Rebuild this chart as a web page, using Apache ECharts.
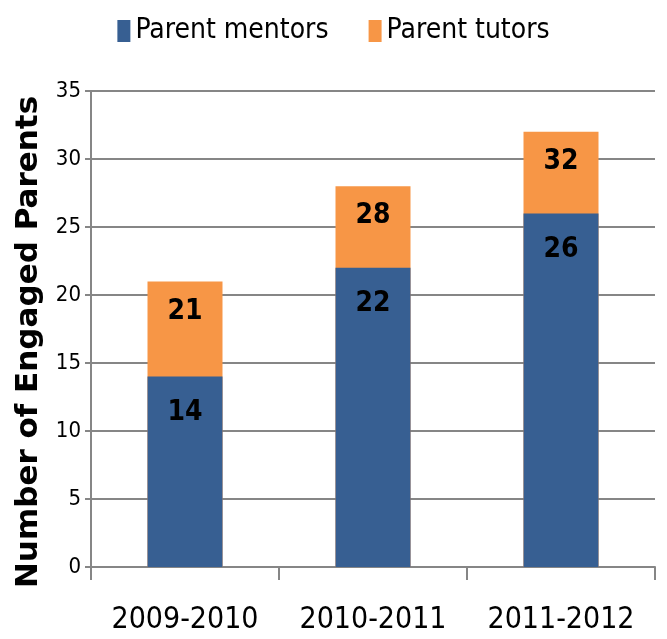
<!DOCTYPE html>
<html>
<head>
<meta charset="utf-8">
<script src="https://cdn.jsdelivr.net/npm/echarts@6/dist/echarts.min.js"></script>
<style>
  html, body { margin: 0; padding: 0; background: #fff; }
  #main { width: 667px; height: 639px; }
</style>
</head>
<body>
<div id="main"></div>
<script>
// values
const years = ['2009-2010', '2010-2011', '2011-2012']
const mentors = [14, 22, 26]
const tutors = [21, 28, 32]
const yTicks = [0, 35, 5] // min, max, step

const narrow = '"Liberation Sans Narrow", "DejaVu Sans Condensed", sans-serif'

var myChart = echarts.init(document.getElementById('main'))

myChart.setOption({
  animation: false,
  legend: {
    data: ['Parent mentors', 'Parent tutors'],
    top: 12,
    left: 'center',
    itemWidth: 13,
    itemHeight: 22,
    itemGap: 40,
    icon: 'rect',
    textStyle: { fontFamily: narrow, fontSize: 28, color: '#000' }
  },
  grid: { left: 91, right: 12, top: 91, bottom: 72, outerBoundsMode: 'none', containLabel: false },
  xAxis: {
    type: 'category',
    data: years,
    axisLine: { lineStyle: { color: '#868686', width: 2 } },
    axisTick: { show: true, length: 13, lineStyle: { color: '#868686', width: 2 } },
    axisLabel: { interval: 0, fontFamily: narrow, fontSize: 30, color: '#000', margin: 38 }
  },
  yAxis: {
    type: 'value',
    min: yTicks[0],
    max: yTicks[1],
    interval: yTicks[2],
    name: 'Number of Engaged Parents',
    nameLocation: 'middle',
    nameGap: 36,
    nameTextStyle: {
      fontFamily: '"DejaVu Sans", sans-serif', fontWeight: 'bold', fontSize: 31, color: '#000',
      padding: [0, 26, 0, 0]
    },
    axisLine: { show: true, lineStyle: { color: '#868686', width: 2 } },
    axisTick: { show: true, length: 6, lineStyle: { color: '#868686', width: 2 } },
    axisLabel: { fontFamily: narrow, fontSize: 22, color: '#000', margin: 10 },
    splitLine: { lineStyle: { color: '#868686', width: 2 } }
  },
  series: [
    {
      name: 'Parent mentors',
      type: 'bar',
      data: mentors,
      z: 3,
      barWidth: 75,
      barGap: '-100%',
      itemStyle: { color: '#375F92' },
      label: {
        show: true, position: 'insideTop', distance: 22,
        fontFamily: narrow, fontWeight: 'bold', fontSize: 28, color: '#000'
      }
    },
    {
      name: 'Parent tutors',
      type: 'bar',
      data: tutors,
      z: 2,
      barWidth: 75,
      barGap: '-100%',
      itemStyle: { color: '#F79646' },
      label: {
        show: true, position: 'insideTop', distance: 16,
        fontFamily: narrow, fontWeight: 'bold', fontSize: 28, color: '#000'
      }
    }
  ]
})
</script>
</body>
</html>
